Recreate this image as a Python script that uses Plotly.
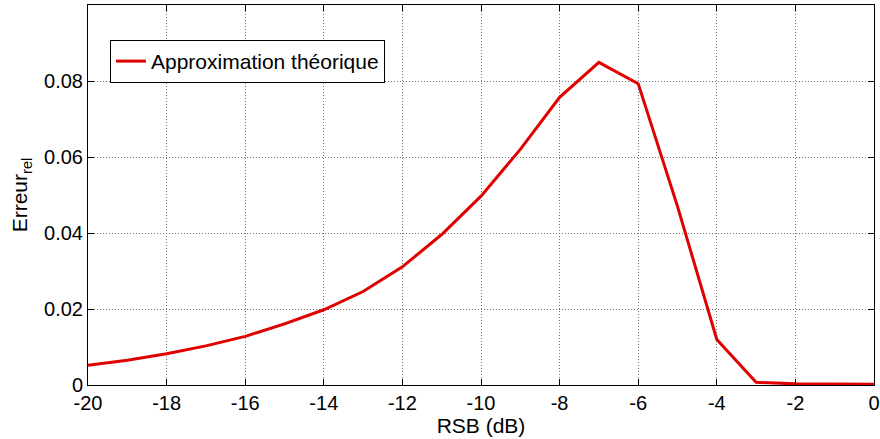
import plotly.graph_objects as go

rsb_db = [-20, -19, -18, -17, -16, -15, -14, -13, -12, -11, -10,
          -9, -8, -7, -6, -5, -4, -3, -2, -1, 0]
erreur_rel = [0.0052, 0.0065, 0.0082, 0.0103, 0.0128, 0.0161, 0.0198, 0.0246,
              0.0311, 0.0396, 0.0497, 0.0620, 0.0757, 0.0849, 0.0793, 0.0470,
              0.0120, 0.0007, 0.0003, 0.0002, 0.0002]
x_ticks = [-20, -18, -16, -14, -12, -10, -8, -6, -4, -2, 0]
x_tick_labels = ["-20", "-18", "-16", "-14", "-12", "-10", "-8", "-6", "-4", "-2", "0"]
y_ticks = [0, 0.02, 0.04, 0.06, 0.08]
y_tick_labels = ["0", "0.02", "0.04", "0.06", "0.08"]

fig = go.Figure()
fig.add_trace(go.Scatter(
    x=rsb_db, y=erreur_rel, mode="lines",
    name="Approximation théorique",
    line=dict(color="#e00000", width=3),
))

fam = "Liberation Sans, Arial, sans-serif"
tick_font = dict(family=fam, size=20, color="black")
title_font = dict(family=fam, size=21, color="black")
axis_common = dict(
    showline=True, linecolor="black", linewidth=1, mirror="ticks",
    ticks="inside", ticklen=6, tickcolor="black",
    showgrid=True, gridcolor="#777777", griddash="1px,2px", gridwidth=1,
    zeroline=False, tickfont=tick_font, automargin=False,
)

fig.update_layout(
    width=880, height=439,
    margin=dict(l=88, r=6, t=5, b=54),
    paper_bgcolor="white", plot_bgcolor="white",
    font=title_font,
    showlegend=True,
    legend=dict(
        x=0.028, y=0.908, xanchor="left", yanchor="top",
        bordercolor="black", borderwidth=1, bgcolor="white",
        font=title_font, tracegroupgap=0,
    ),
    xaxis=dict(range=[-20, 0], tickvals=x_ticks, ticktext=x_tick_labels,
               title=dict(text="RSB (dB)", font=title_font, standoff=0),
               **axis_common),
    yaxis=dict(range=[0, 0.1], tickvals=y_ticks, ticktext=y_tick_labels,
               title=dict(text="Erreur<sub>rel</sub>", font=title_font, standoff=10),
               **axis_common),
)

fig.write_html(
    "out.html",
    config={"displayModeBar": False},
    post_script="document.body.style.margin='0px';document.body.style.overflow='hidden';",
)
